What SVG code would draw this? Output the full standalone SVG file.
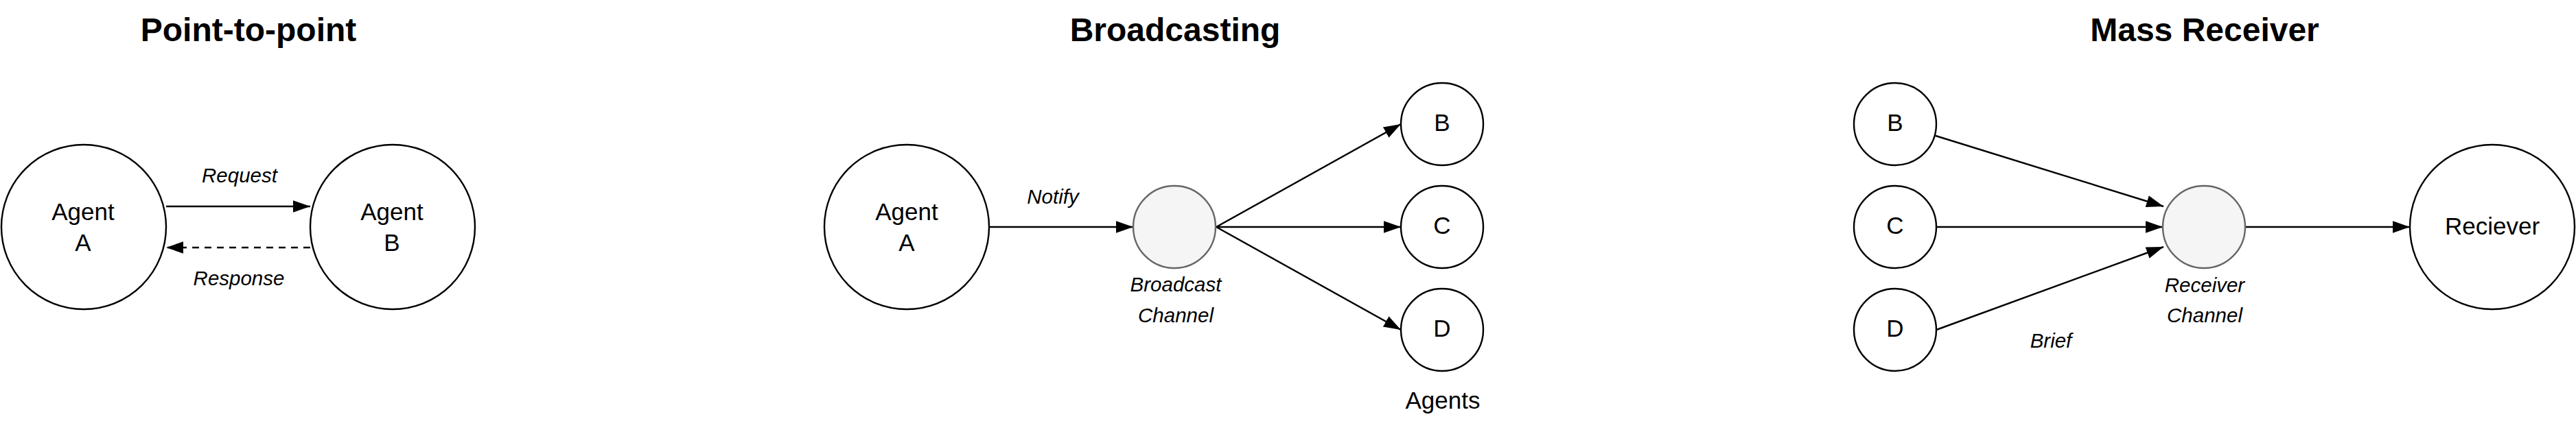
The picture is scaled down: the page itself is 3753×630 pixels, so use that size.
<svg xmlns="http://www.w3.org/2000/svg" width="3753" height="630" viewBox="0 0 3753 630">
<style>
.title{font-family:"Liberation Sans",Arial,sans-serif;font-size:48px;font-weight:bold;fill:#000;text-anchor:middle}
.node{fill:#fff;stroke:#000;stroke-width:2.4}
.chan{fill:#f5f5f5;stroke:#666;stroke-width:2.4}
.nt{font-family:"Liberation Sans",Arial,sans-serif;font-size:35px;fill:#000;text-anchor:middle}
.lbl{font-family:"Liberation Sans",Arial,sans-serif;font-size:29.5px;font-style:italic;fill:#000;text-anchor:middle}
.edge{fill:none;stroke:#000;stroke-width:2.4}
.dash{stroke-dasharray:10 8}
</style>
<defs>
<marker id="arrow" markerUnits="userSpaceOnUse" markerWidth="26" markerHeight="18" refX="25" refY="8.7" orient="auto" viewBox="0 0 26 17.4">
<path d="M0,0 L25,8.7 L0,17.4 Z" fill="#000"/>
</marker>
</defs>
<rect width="3753" height="630" fill="#fff"/>

<g id="titles">
<text class="title" x="362" y="60">Point-to-point</text>
<text class="title" x="1712" y="60">Broadcasting</text>
<text class="title" x="3212" y="60">Mass Receiver</text>
</g>

<g id="connectors">
<path class="edge" d="M242,301 L452,301" marker-end="url(#arrow)"/>
<path class="edge dash" d="M452,361 L242,361" marker-end="url(#arrow)"/>
<path class="edge" d="M1441,331 L1651,331" marker-end="url(#arrow)"/>
<path class="edge" d="M1772,331 L2041,181" marker-end="url(#arrow)"/>
<path class="edge" d="M1772,331 L2041,331" marker-end="url(#arrow)"/>
<path class="edge" d="M1772,331 L2041,481" marker-end="url(#arrow)"/>
<path class="edge" d="M2820,198 L3152,301" marker-end="url(#arrow)"/>
<path class="edge" d="M2821,331 L3151,331" marker-end="url(#arrow)"/>
<path class="edge" d="M2821,481 L3152,360" marker-end="url(#arrow)"/>
<path class="edge" d="M3271,331 L3511,331" marker-end="url(#arrow)"/>
</g>

<g id="edge-labels">
<text class="lbl" x="349" y="266">Request</text>
<text class="lbl" x="348" y="416">Response</text>
<text class="lbl" x="1534" y="297">Notify</text>
<text class="lbl" x="2988" y="507">Brief</text>
</g>

<g id="ptp-agent-a">
<circle class="node" cx="122" cy="331" r="120"/>
<text class="nt" x="121" y="321">Agent</text>
<text class="nt" x="121" y="366">A</text>
</g>
<g id="ptp-agent-b">
<circle class="node" cx="572" cy="331" r="120"/>
<text class="nt" x="571" y="321">Agent</text>
<text class="nt" x="571" y="366">B</text>
</g>

<g id="bc-agent-a">
<circle class="node" cx="1321" cy="331" r="120"/>
<text class="nt" x="1321" y="321">Agent</text>
<text class="nt" x="1321" y="366">A</text>
</g>
<g id="bc-channel">
<circle class="chan" cx="1711" cy="331" r="60"/>
<text class="lbl" x="1713" y="425">Broadcast</text>
<text class="lbl" x="1713" y="470">Channel</text>
</g>
<g id="bc-b">
<circle class="node" cx="2101" cy="181" r="60"/>
<text class="nt" x="2101" y="191">B</text>
</g>
<g id="bc-c">
<circle class="node" cx="2101" cy="331" r="60"/>
<text class="nt" x="2101" y="341">C</text>
</g>
<g id="bc-d">
<circle class="node" cx="2101" cy="481" r="60"/>
<text class="nt" x="2101" y="491">D</text>
</g>
<g id="bc-agents-label">
<text class="nt" x="2102" y="596">Agents</text>
</g>

<g id="mr-b">
<circle class="node" cx="2761" cy="181" r="60"/>
<text class="nt" x="2761" y="191">B</text>
</g>
<g id="mr-c">
<circle class="node" cx="2761" cy="331" r="60"/>
<text class="nt" x="2761" y="341">C</text>
</g>
<g id="mr-d">
<circle class="node" cx="2761" cy="481" r="60"/>
<text class="nt" x="2761" y="491">D</text>
</g>
<g id="mr-channel">
<circle class="chan" cx="3211" cy="331" r="60"/>
<text class="lbl" x="3212" y="426">Receiver</text>
<text class="lbl" x="3212" y="470">Channel</text>
</g>
<g id="mr-reciever">
<circle class="node" cx="3631" cy="331" r="120"/>
<text class="nt" x="3631" y="342">Reciever</text>
</g>
</svg>
